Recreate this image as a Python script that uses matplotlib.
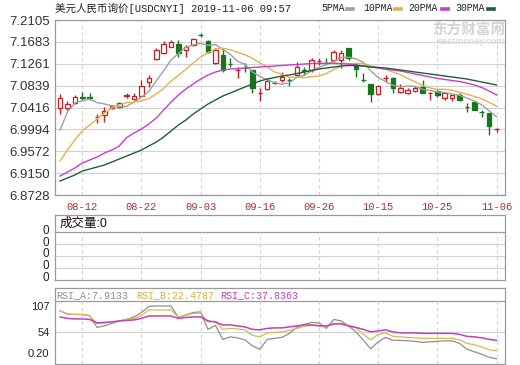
import numpy as np
import matplotlib.pyplot as plt
from matplotlib.lines import Line2D

plt.rcParams['font.family'] = ['Liberation Sans', 'Noto Sans CJK SC', 'DejaVu Sans']

# ---- data ----
date_labels = ['08-12', '08-22', '09-03', '09-16', '09-26', '10-15', '10-25', '11-06']
date_idx = [3, 11, 19, 27, 35, 43, 51, 59]

price_ticks = [7.2105, 7.1683, 7.1261, 7.0839, 7.0416, 6.9994, 6.9572, 6.9150, 6.8728]

opens = [7.0401, 7.0413, 7.0509, 7.0611, 7.0612, 7.0237, 7.0272, 7.0401, 7.0432, 7.0648,
         7.0581, 7.0644, 7.0903, 7.1347, 7.1462, 7.1590, 7.1642, 7.1526, 7.1623, 7.1822,
         7.1706, 7.1269, 7.1430, 7.1260, 7.1136, 7.1186, 7.1140, 7.0690, 7.0774, 7.0897,
         7.0947, 7.0950, 7.1044, 7.1140, 7.1140, 7.1318, 7.1282, 7.1333, 7.1333, 7.1559,
         7.1237, 7.0950, 7.0864, 7.0671, 7.0978, 7.0980, 7.0710, 7.0691, 7.0735, 7.0818,
         7.0689, 7.0735, 7.0606, 7.0606, 7.0658, 7.0435, 7.0517, 7.0330, 7.0305, 6.9994]
highs = [7.0671, 7.0542, 7.0658, 7.0710, 7.0690, 7.0291, 7.0432, 7.0465, 7.0529, 7.0691,
         7.0691, 7.0947, 7.1044, 7.1565, 7.1706, 7.1719, 7.1719, 7.1623, 7.1763, 7.1848,
         7.1719, 7.1559, 7.1559, 7.1366, 7.1204, 7.1269, 7.1140, 7.0787, 7.0980, 7.0928,
         7.1096, 7.0980, 7.1289, 7.1204, 7.1366, 7.1366, 7.1378, 7.1526, 7.1526, 7.1559,
         7.1269, 7.1076, 7.0864, 7.0851, 7.1044, 7.1011, 7.0864, 7.0787, 7.0837, 7.0947,
         7.0722, 7.0754, 7.0722, 7.0658, 7.0691, 7.0497, 7.0542, 7.0368, 7.0305, 7.0015]
lows = [7.0285, 7.0362, 7.0478, 7.0561, 7.0561, 7.0111, 7.0131, 7.0387, 7.0401, 7.0594,
        7.0561, 7.0640, 7.0818, 7.1333, 7.1455, 7.1585, 7.1397, 7.1397, 7.1609, 7.1783,
        7.1462, 7.1250, 7.1107, 7.1204, 7.0992, 7.1107, 7.0691, 7.0542, 7.0754, 7.0870,
        7.0914, 7.0837, 7.1011, 7.1044, 7.1107, 7.1237, 7.1237, 7.1300, 7.1179, 7.1333,
        7.1011, 7.0903, 7.0517, 7.0658, 7.0914, 7.0691, 7.0691, 7.0677, 7.0722, 7.0691,
        7.0561, 7.0625, 7.0561, 7.0542, 7.0542, 7.0335, 7.0368, 7.0239, 6.9886, 6.9938]
closes = [7.0594, 7.0478, 7.0625, 7.0606, 7.0604, 7.0241, 7.0355, 7.0445, 7.0498, 7.0658,
          7.0644, 7.0832, 7.0992, 7.1526, 7.1642, 7.1675, 7.1462, 7.1590, 7.1738, 7.1815,
          7.1482, 7.1526, 7.1140, 7.1256, 7.1140, 7.1183, 7.0799, 7.0694, 7.0928, 7.0895,
          7.1011, 7.0945, 7.1204, 7.1127, 7.1333, 7.1322, 7.1276, 7.1493, 7.1474, 7.1366,
          7.1160, 7.0945, 7.0671, 7.0837, 7.0982, 7.0787, 7.0799, 7.0754, 7.0799, 7.0691,
          7.0693, 7.0658, 7.0691, 7.0658, 7.0561, 7.0430, 7.0368, 7.0324, 7.0066, 6.9998]

ma5 = [6.9982, 7.0329, 7.0503, 7.0542, 7.0580, 7.0511, 7.0486, 7.0449, 7.0428, 7.0439,
       7.0521, 7.0615, 7.0725, 7.0930, 7.1127, 7.1333, 7.1458, 7.1578, 7.1623, 7.1655,
       7.1617, 7.1630, 7.1540, 7.1443, 7.1308, 7.1250, 7.1103, 7.1015, 7.0949, 7.0899,
       7.0864, 7.0895, 7.0997, 7.1036, 7.1125, 7.1186, 7.1252, 7.1310, 7.1379, 7.1387,
       7.1354, 7.1289, 7.1123, 7.0995, 7.0918, 7.0845, 7.0814, 7.0831, 7.0824, 7.0766,
       7.0746, 7.0717, 7.0706, 7.0677, 7.0652, 7.0600, 7.0542, 7.0468, 7.0351, 7.0237]
ma10 = [6.9384, 6.9596, 6.9789, 6.9963, 7.0079, 7.0194, 7.0310, 7.0407, 7.0465, 7.0511,
        7.0515, 7.0549, 7.0586, 7.0679, 7.0783, 7.0926, 7.1038, 7.1152, 7.1275, 7.1391,
        7.1476, 7.1545, 7.1559, 7.1532, 7.1482, 7.1433, 7.1368, 7.1277, 7.1196, 7.1103,
        7.1057, 7.0999, 7.1005, 7.0991, 7.1011, 7.1024, 7.1072, 7.1154, 7.1208, 7.1256,
        7.1269, 7.1269, 7.1217, 7.1188, 7.1152, 7.1100, 7.1051, 7.0978, 7.0910, 7.0843,
        7.0795, 7.0766, 7.0768, 7.0750, 7.0708, 7.0673, 7.0631, 7.0586, 7.0513, 7.0445]
ma20 = [6.9094, 6.9171, 6.9249, 6.9345, 6.9403, 6.9461, 6.9538, 6.9596, 6.9673, 6.9837,
        6.9924, 7.0001, 7.0098, 7.0214, 7.0368, 7.0522, 7.0658, 7.0773, 7.0870, 7.0966,
        7.1044, 7.1101, 7.1140, 7.1159, 7.1169, 7.1179, 7.1188, 7.1198, 7.1208, 7.1217,
        7.1227, 7.1237, 7.1246, 7.1256, 7.1265, 7.1269, 7.1269, 7.1269, 7.1265, 7.1256,
        7.1237, 7.1217, 7.1198, 7.1179, 7.1159, 7.1140, 7.1121, 7.1092, 7.1063, 7.1034,
        7.1005, 7.0980, 7.0957, 7.0937, 7.0918, 7.0889, 7.0851, 7.0802, 7.0735, 7.0658]
ma30 = [6.8998, 6.9056, 6.9114, 6.9191, 6.9229, 6.9268, 6.9307, 6.9364, 6.9422, 6.9480,
        6.9538, 6.9596, 6.9673, 6.9750, 6.9847, 6.9963, 7.0079, 7.0175, 7.0291, 7.0387,
        7.0484, 7.0561, 7.0638, 7.0696, 7.0754, 7.0812, 7.0870, 7.0928, 7.0966, 7.0995,
        7.1024, 7.1044, 7.1072, 7.1101, 7.1130, 7.1159, 7.1179, 7.1198, 7.1217, 7.1227,
        7.1227, 7.1217, 7.1198, 7.1188, 7.1179, 7.1159, 7.1140, 7.1121, 7.1101, 7.1082,
        7.1063, 7.1044, 7.1024, 7.1005, 7.0986, 7.0966, 7.0937, 7.0908, 7.0879, 7.0851]

rsi_ticks = [107, 54, 0.20]
rsi_a = [97, 91, 90, 90, 88, 64, 67, 72, 77, 80, 85, 94, 106, 107, 107, 107, 84, 89, 94, 95,
         60, 68, 40, 45, 43, 39, 27, 20, 40, 42, 44, 52, 64, 70, 74, 73, 62, 80, 77, 67,
         55, 38, 21, 35, 44, 38, 38, 37, 36, 34, 35, 36, 37, 37, 32, 20, 15, 10, 4, 1]
rsi_b = [97, 91, 90, 90, 87, 72, 73, 75, 77, 80, 82, 88, 99, 99, 99, 99, 84, 88, 92, 93,
         75, 76, 60, 62, 61, 59, 48, 45, 53, 54, 55, 58, 62, 66, 68, 68, 65, 72, 72, 68,
         63, 50, 39, 50, 53, 46, 45, 44, 43, 42, 42, 42, 42, 42, 39, 32, 29, 25, 19, 17]
rsi_c = [85, 82, 81, 81, 80, 73, 74, 75, 77, 78, 79, 82, 87, 87, 87, 87, 82, 84, 85, 85,
         77, 75, 69, 69, 67, 65, 60, 59, 62, 63, 63, 65, 67, 69, 69, 67, 67, 71, 71, 67,
         64, 60, 55, 57, 59, 55, 53, 53, 53, 52, 52, 52, 52, 52, 50, 46, 45, 43, 40, 38]

c_gray = '#a0a0a0'
c_gold = '#e3b24c'
c_mag = '#cc3ccc'
c_dkg = '#1f5f3c'
c_up = '#c81e1e'
c_dn = '#17751c'
c_grid = '#d2d2d2'
c_spine = '#9a9a9a'
c_date = '#a8322d'
mono = ['Liberation Mono', 'Noto Sans CJK SC']

x = np.arange(len(closes))
o = np.array(opens)
c = np.array(closes)
up = c >= o
cols = np.where(up, c_up, c_dn)
faces = np.where(up, 'white', c_dn)

fig = plt.figure(figsize=(5.2, 3.65), dpi=100)
xlim = (-0.68, 60.14)

def style_spines(a):
    for s in a.spines.values():
        s.set_color(c_spine)
        s.set_linewidth(0.9)

# ---- main price panel ----
ax = fig.add_axes([0.10577, 0.46575, 0.86538, 0.47945])
ax.set_xlim(*xlim)
ax.set_ylim(price_ticks[-1], price_ticks[0])
ax.set_yticks(price_ticks)
ax.set_yticklabels(['%.4f' % v for v in price_ticks], fontsize=9.5, color='#333333')
ax.set_xticks(date_idx)
ax.set_xticklabels(date_labels, family=mono, fontsize=7.6, color=c_date)
ax.tick_params(length=0, pad=3.5)
ax.tick_params(axis='x', pad=5)
ax.yaxis.grid(True, color=c_grid, lw=0.8)
ax.xaxis.grid(True, color=c_grid, lw=0.8, ls=(0, (3, 3)))
ax.set_axisbelow(True)
style_spines(ax)

ax.vlines(x, lows, highs, color=cols, lw=1, zorder=2)
ax.bar(x, np.maximum(np.abs(c - o), 0.0002), bottom=np.minimum(o, c), width=0.62,
       facecolor=faces, edgecolor=cols, lw=0.9, zorder=3)
ax.plot(x, ma5, color=c_gray, lw=1, zorder=4)
ax.plot(x, ma10, color=c_gold, lw=1, zorder=4)
ax.plot(x, ma20, color=c_mag, lw=1, zorder=4)
ax.plot(x, ma30, color=c_dkg, lw=1, zorder=4)

# title and legend
fig.text(55 / 520, 1 - 8 / 365, '美元人民币询价[USDCNYI] 2019-11-06 09:57',
         family=mono, fontsize=7.6, color='#222222', va='center')
legend = [('5PMA', 321.7, 347, c_gray), ('10PMA', 363, 395, c_gold),
          ('20PMA', 408, 442, c_mag), ('30PMA', 455, 488, c_dkg)]
for name, tx, dx, col in legend:
    fig.text(tx / 520, 1 - 8 / 365, name, family=mono, fontsize=7.1,
             color='#222222', va='center')
    fig.add_artist(Line2D([dx / 520, (dx + 6) / 520], [1 - 8.5 / 365, 1 - 8.5 / 365],
                          color=col, lw=2.6, transform=fig.transFigure))

# watermark
fig.text(505 / 520, 1 - 31 / 365, '东方财富网', fontsize=10.5, fontweight='bold',
         color='#d4d4d4', ha='right', va='center')
fig.text(505 / 520, 1 - 42 / 365, 'eastmoney.com', fontsize=6.5, fontweight='bold',
         color='#dcdcdc', ha='right', va='center')

# ---- volume panel ----
av = fig.add_axes([0.10577, 0.23397, 0.86538, 0.17699])
av.set_xlim(*xlim)
av.set_ylim(0, 5.39)
av.set_xticks([])
av.set_yticks([0.22, 1.22, 2.22, 3.22, 4.22])
av.set_yticklabels(['0'] * 5, fontsize=8.5, color='#222222')
av.tick_params(length=0, pad=4)
for g in [1, 2, 3]:
    av.axhline(g, color=c_grid, lw=0.8)
av.axhline(4, color=c_spine, lw=0.9)
av.vlines(date_idx, 0, 4, color=c_grid, lw=0.8, ls=(0, (3, 3)))
av.text(0.006, 4.7, '成交量:0', fontsize=9, color='#111111', va='center')
style_spines(av)

# ---- RSI panel ----
ar = fig.add_axes([0.10577, 0.00274, 0.86538, 0.2074])
ar.set_xlim(*xlim)
ar.set_ylim(-9.5, 142.5)
ar.set_xticks([])
ar.set_yticks(rsi_ticks)
ar.set_yticklabels(['107', '54', '0.20'], fontsize=8, color='#222222')
ar.get_yticklabels()[-1].set_va('bottom')
ar.tick_params(length=0, pad=4)
ar.axhline(54, color=c_grid, lw=0.8)
ar.axhline(117, color=c_spine, lw=0.9)
ar.vlines(date_idx, -9.5, 117, color=c_grid, lw=0.8, ls=(0, (3, 3)))
ar.plot(x, rsi_a, color='#8e8e8e', lw=0.9)
ar.plot(x, rsi_b, color='#dcb94e', lw=0.9)
ar.plot(x, rsi_c, color='#c040c0', lw=1.1)
style_spines(ar)
hy = 1 - 295 / 365
fig.text(56.5 / 520, hy, 'RSI_A:7.9133', family=mono, fontsize=7.2, color='#8e8e8e', va='center')
fig.text(136.7 / 520, hy, 'RSI_B:22.4787', family=mono, fontsize=7.2, color='#d4b040', va='center')
fig.text(220 / 520, hy, 'RSI_C:37.8363', family=mono, fontsize=7.2, color='#c040c0', va='center')

fig.savefig('out.png', dpi=100)
